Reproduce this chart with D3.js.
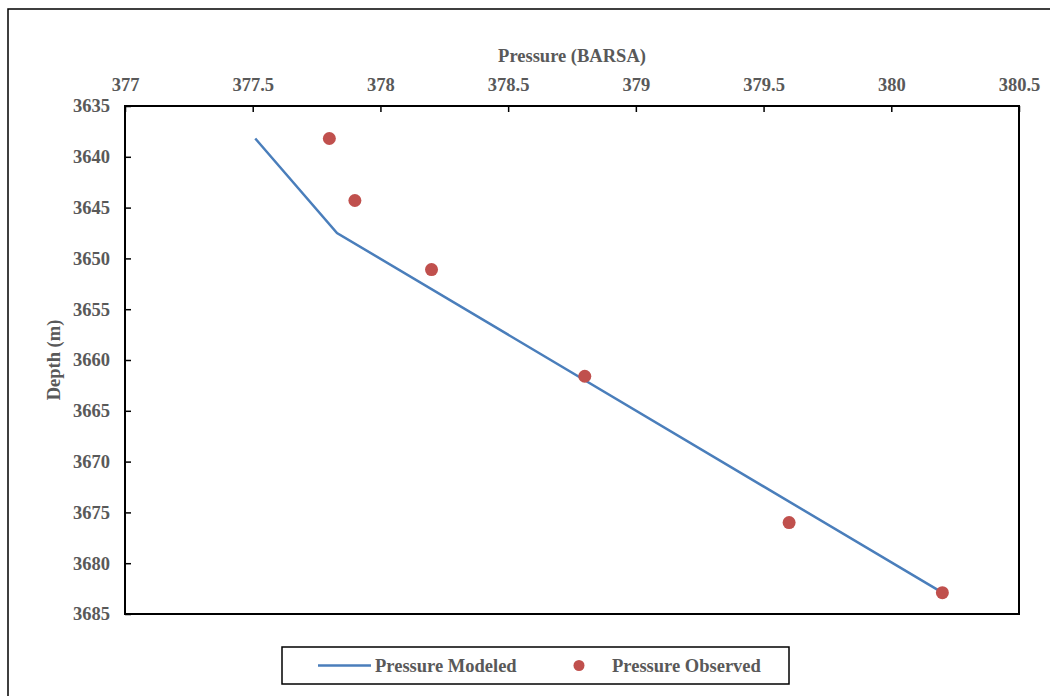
<!DOCTYPE html>
<html>
<head>
<meta charset="utf-8">
<script src="https://cdn.jsdelivr.net/npm/d3@7"></script>
<style>
  html, body { margin: 0; padding: 0; background: #fff; }
  svg { display: block; }
  text { font-family: "Liberation Serif", "Times New Roman", serif; font-weight: bold; fill: #595959; }
</style>
</head>
<body>
<svg id="chart" width="1050" height="696"></svg>
<script>
// Pressure vs depth profile
const xTicks = [377, 377.5, 378, 378.5, 379, 379.5, 380, 380.5];
const yTicks = [3635, 3640, 3645, 3650, 3655, 3660, 3665, 3670, 3675, 3680, 3685];

const modeledPressure = [377.51, 377.83, 380.2];
const modeledDepth    = [3638.2, 3647.5, 3682.9];

const observedPressure = [377.8, 377.9, 378.2, 378.8, 379.6, 380.2];
const observedDepth    = [3638.2, 3644.3, 3651.1, 3661.6, 3676.0, 3682.9];

const seriesNames = ["Pressure Modeled", "Pressure Observed"];
const lineColor = "#4A7EBB";
const dotColor = "#C0504D";
const fontSize = "18.5px";

const svg = d3.select("#chart");
const plot = { left: 125, top: 106, right: 1019, bottom: 614 };

// outer chart frame
svg.append("rect")
  .attr("x", 8).attr("y", 9)
  .attr("width", 1100).attr("height", 800)
  .attr("fill", "none").attr("stroke", "#000").attr("stroke-width", 1.5);

const x = d3.scaleLinear().domain([377, 380.5]).range([plot.left, plot.right]);
const y = d3.scaleLinear().domain([3635, 3685]).range([plot.top, plot.bottom]);

// top axis (pressure)
const xAxis = svg.append("g")
  .attr("transform", `translate(0,${plot.top})`)
  .call(d3.axisTop(x).tickValues(xTicks).tickFormat(d3.format("")).tickSizeInner(-6).tickSizeOuter(0).tickPadding(15.5));
xAxis.select(".domain").remove();
xAxis.selectAll(".tick line").attr("stroke", "#000").attr("stroke-width", 1.5);
xAxis.selectAll("text").style("font-size", fontSize).attr("fill", "#595959");
xAxis.attr("font-family", null);

// left axis (depth)
const yAxis = svg.append("g")
  .attr("transform", `translate(${plot.left},0)`)
  .call(d3.axisLeft(y).tickValues(yTicks).tickFormat(d3.format("")).tickSizeInner(-6).tickSizeOuter(0).tickPadding(15));
yAxis.select(".domain").remove();
yAxis.selectAll(".tick line").attr("stroke", "#000").attr("stroke-width", 1.5);
yAxis.selectAll("text").style("font-size", fontSize).attr("fill", "#595959");
yAxis.attr("font-family", null);

// plot box
svg.append("rect")
  .attr("x", plot.left).attr("y", plot.top)
  .attr("width", plot.right - plot.left).attr("height", plot.bottom - plot.top)
  .attr("fill", "none").attr("stroke", "#000").attr("stroke-width", 2);

// axis titles
svg.append("text")
  .attr("x", (plot.left + plot.right) / 2).attr("y", 62)
  .attr("text-anchor", "middle").style("font-size", fontSize)
  .text("Pressure (BARSA)");

svg.append("text")
  .attr("transform", `translate(60,${(plot.top + plot.bottom) / 2}) rotate(-90)`)
  .attr("text-anchor", "middle").style("font-size", fontSize)
  .text("Depth (m)");

// modeled line
const modeled = modeledPressure.map((p, i) => ({ p, d: modeledDepth[i] }));
svg.append("path")
  .datum(modeled)
  .attr("fill", "none").attr("stroke", lineColor).attr("stroke-width", 2.5)
  .attr("d", d3.line().x(d => x(d.p)).y(d => y(d.d)));

// observed points
const observed = observedPressure.map((p, i) => ({ p, d: observedDepth[i] }));
svg.append("g").selectAll("circle")
  .data(observed).join("circle")
  .attr("cx", d => x(d.p)).attr("cy", d => y(d.d))
  .attr("r", 6.5).attr("fill", dotColor);

// legend
const legend = svg.append("g");
legend.append("rect")
  .attr("x", 282).attr("y", 647).attr("width", 507).attr("height", 37)
  .attr("fill", "#fff").attr("stroke", "#000").attr("stroke-width", 1.5);
legend.append("line")
  .attr("x1", 318).attr("x2", 371).attr("y1", 665.5).attr("y2", 665.5)
  .attr("stroke", lineColor).attr("stroke-width", 2.5);
legend.append("text").attr("x", 375).attr("y", 671.5).style("font-size", fontSize).text(seriesNames[0]);
legend.append("circle").attr("cx", 579).attr("cy", 665.5).attr("r", 5.5).attr("fill", dotColor);
legend.append("text").attr("x", 612).attr("y", 671.5).style("font-size", fontSize).text(seriesNames[1]);
</script>
</body>
</html>
